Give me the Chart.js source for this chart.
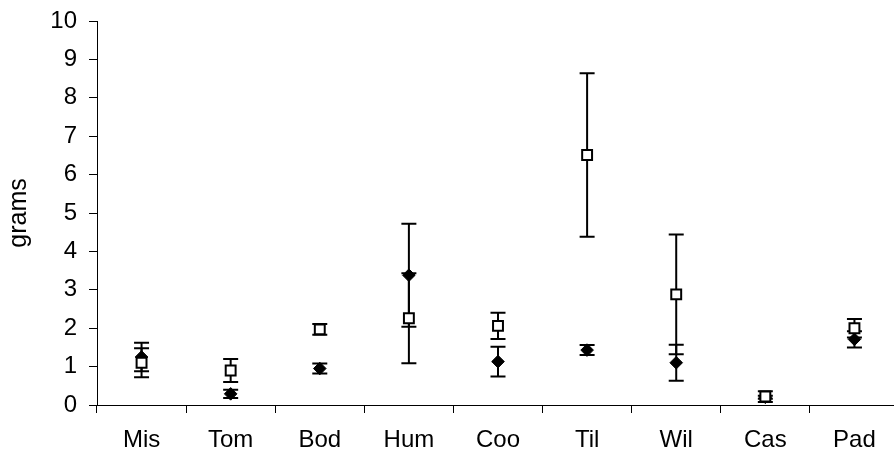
<!DOCTYPE html>
<html>
<head>
<meta charset="utf-8">
<script src="https://cdn.jsdelivr.net/npm/chart.js@4/dist/chart.umd.min.js"></script>
<style>
  html, body { margin: 0; padding: 0; background: #fff; }
  #wrap { width: 894px; height: 459px; }
</style>
</head>
<body>
<div id="wrap"><canvas id="c" width="894" height="459"></canvas></div>
<script>
const categories = ['Mis', 'Tom', 'Bod', 'Hum', 'Coo', 'Til', 'Wil', 'Cas', 'Pad'];
const squareMeans = [1.10, 0.90, 1.97, 2.26, 2.06, 6.51, 2.88, 0.22, 2.00];
const squareErr   = [0.38, 0.30, 0.14, 1.17, 0.34, 2.13, 1.56, 0.14, 0.24];
const diamondMeans = [1.25, 0.29, 0.95, 3.38, 1.13, 1.43, 1.10, 0.20, 1.71];
const diamondErr   = [0.37, 0.11, 0.13, 1.34, 0.39, 0.13, 0.47, 0.04, 0.21];
const yTicks = [0, 1, 2, 3, 4, 5, 6, 7, 8, 9, 10];
const yTitle = 'grams';

const FONT = 'Liberation Sans, Arial, sans-serif';
const RIGHT_OVERHANG = 5; // the plot area runs slightly past the right edge of the picture

const extendRight = {
  id: 'extendRight',
  afterLayout(chart) {
    const x = chart.scales.x;
    x.right += RIGHT_OVERHANG;
    x.width += RIGHT_OVERHANG;
    chart.chartArea.right += RIGHT_OVERHANG;
    chart.chartArea.width += RIGHT_OVERHANG;
    x.configure();
  }
};

const errorBars = {
  id: 'errorBars',
  beforeDatasetsDraw(chart) {
    const ctx = chart.ctx;
    const xs = chart.scales.x, ys = chart.scales.y;
    ctx.save();
    ctx.strokeStyle = '#000';
    ctx.lineWidth = 2;
    chart.data.datasets.forEach(ds => {
      const errs = ds.errors;
      ds.data.forEach((v, i) => {
        const x = xs.getPixelForValue(i);
        const yTop = ys.getPixelForValue(v + errs[i]);
        const yBot = ys.getPixelForValue(Math.max(0, v - errs[i]));
        ctx.beginPath();
        ctx.moveTo(x, yTop); ctx.lineTo(x, yBot);
        ctx.moveTo(x - 7.5, yTop); ctx.lineTo(x + 7.5, yTop);
        ctx.moveTo(x - 7.5, yBot); ctx.lineTo(x + 7.5, yBot);
        ctx.stroke();
      });
    });
    ctx.restore();
  }
};

new Chart(document.getElementById('c'), {
  type: 'line',
  data: {
    labels: categories,
    datasets: [
      {
        label: 'open',
        data: squareMeans,
        errors: squareErr,
        showLine: false,
        pointStyle: 'rect',
        pointRadius: 7,
        pointBackgroundColor: '#fff',
        pointBorderColor: '#000',
        pointBorderWidth: 2
      },
      {
        label: 'filled',
        data: diamondMeans,
        errors: diamondErr,
        showLine: false,
        pointStyle: 'rectRot',
        pointRadius: 6.3,
        pointBackgroundColor: '#000',
        pointBorderColor: '#000',
        pointBorderWidth: 1
      }
    ]
  },
  options: {
    responsive: false,
    animation: false,
    events: [],
    layout: { autoPadding: false, padding: { top: 21, right: 0, bottom: 0, left: 0 } },
    plugins: { legend: { display: false }, tooltip: { enabled: false } },
    scales: {
      x: {
        type: 'category',
        offset: true,
        grid: { offset: true, drawOnChartArea: false, drawTicks: true, tickLength: 8, color: '#000' },
        border: { display: true, color: '#000', width: 1 },
        ticks: { color: '#000', padding: 13, font: { family: FONT, size: 24 }, maxRotation: 0, autoSkip: false },
        afterFit(s) { s.height = 54; s.paddingLeft = 0; s.paddingRight = 0; }
      },
      y: {
        min: 0, max: 10,
        afterBuildTicks(s) { s.ticks = yTicks.map(v => ({ value: v })); },
        grid: { drawOnChartArea: false, drawTicks: true, tickLength: 8, color: '#000' },
        border: { display: true, color: '#000', width: 1 },
        ticks: { color: '#000', padding: 12, font: { family: FONT, size: 24 } },
        title: { display: true, text: yTitle, color: '#000', font: { family: FONT, size: 25 }, padding: { top: 4, bottom: 0 } },
        afterFit(s) { s.width = 97; s.paddingTop = 0; s.paddingBottom = 0; }
      }
    }
  },
  plugins: [extendRight, errorBars]
});
</script>
</body>
</html>
